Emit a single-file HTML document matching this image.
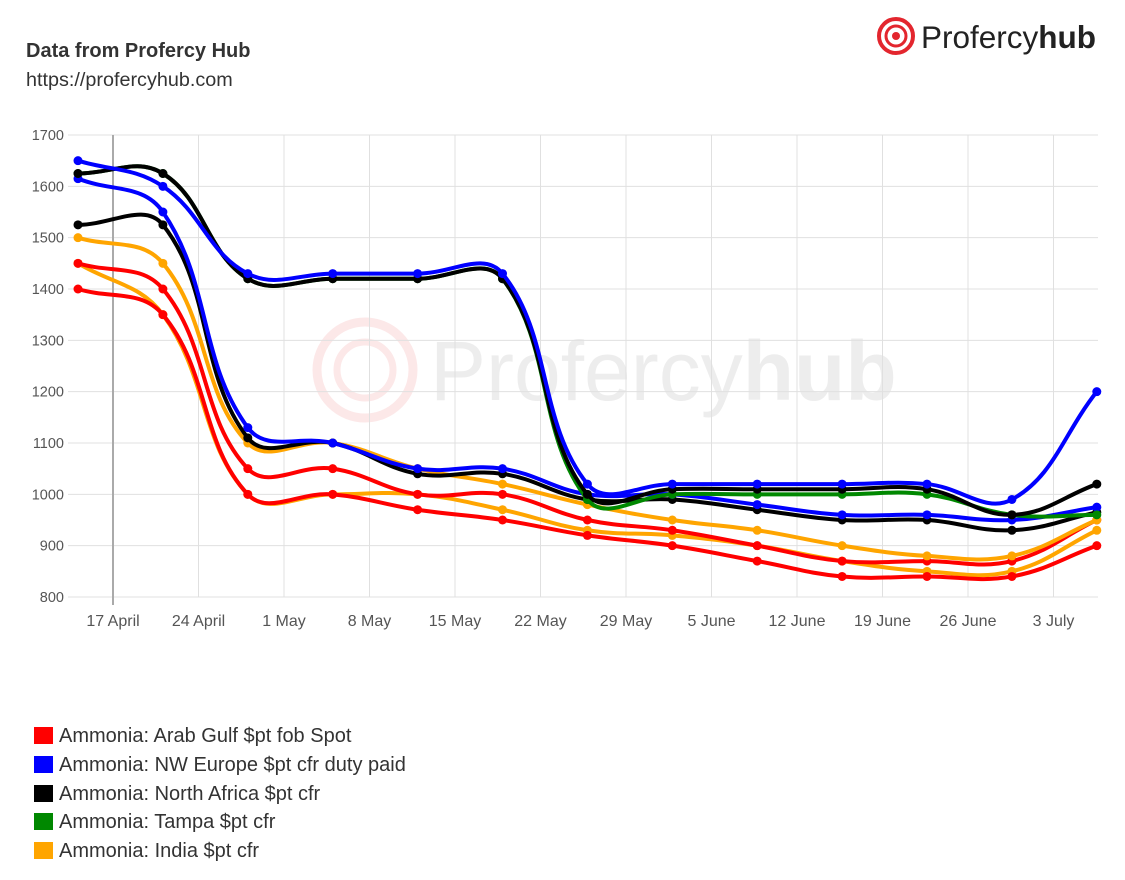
<!DOCTYPE html><html><head><style>
body{margin:0;width:1125px;height:880px;background:#fff;font-family:"Liberation Sans",sans-serif;overflow:hidden;position:relative}
.t{position:absolute;left:26px;top:40px;font-weight:bold;font-size:20px;color:#333}
.u{position:absolute;left:26px;top:69px;font-size:19.8px;color:#333}
.lg{position:absolute;left:34px;font-size:20px;color:#333;line-height:20px}
.lg span{display:inline-block;width:19px;height:17px;vertical-align:-2px;margin-right:6px}
</style></head><body>
<div class="t">Data from Profercy Hub</div>
<div class="u">https://profercyhub.com</div>
<svg width="1125" height="880" style="position:absolute;left:0;top:0" id="s" font-family="Liberation Sans, sans-serif">
<g id="logo">
<circle cx="896" cy="36" r="17" fill="none" stroke="#e3262e" stroke-width="4"/>
<circle cx="896" cy="36" r="10" fill="none" stroke="#e3262e" stroke-width="3"/>
<circle cx="896" cy="36" r="4" fill="#e3262e"/>
<text x="921" y="48" font-size="31.5" fill="#222">Profercy<tspan font-weight="bold">hub</tspan></text>
</g>
<g opacity="0.1">
<circle cx="365" cy="370" r="48" fill="none" stroke="#e3262e" stroke-width="9"/>
<circle cx="365" cy="370" r="28" fill="none" stroke="#e3262e" stroke-width="7"/>
<text x="430" y="400" font-size="84" fill="#555">Profercy<tspan font-weight="bold">hub</tspan></text>
</g>
<g id="g"></g><g id="d"></g>
</svg>
<div class="lg" style="top:726px"><span style="background:#f00"></span>Ammonia: Arab Gulf $pt fob Spot</div>
<div class="lg" style="top:755px"><span style="background:#00f"></span>Ammonia: NW Europe $pt cfr duty paid</div>
<div class="lg" style="top:784px"><span style="background:#000"></span>Ammonia: North Africa $pt cfr</div>
<div class="lg" style="top:812px"><span style="background:#080"></span>Ammonia: Tampa $pt cfr</div>
<div class="lg" style="top:841px"><span style="background:#ffa500"></span>Ammonia: India $pt cfr</div>
<script>
var g=document.getElementById('g'),d=document.getElementById('d'),h='';
function Y(v){return 135+(1700-v)*0.51333;}
for(var v=800;v<=1700;v+=100){h+='<line x1="68" x2="1098" y1="'+Y(v)+'" y2="'+Y(v)+'" stroke="#e0e0e0"/><text x="64" y="'+(Y(v)+5)+'" font-size="14.5" fill="#555" text-anchor="end">'+v+'</text>';}
var labs=["17 April","24 April","1 May","8 May","15 May","22 May","29 May","5 June","12 June","19 June","26 June","3 July"];
for(var i=0;i<12;i++){var x=113+i*85.5;h+='<line x1="'+x+'" x2="'+x+'" y1="135" y2="'+(i==0?605:597)+'" stroke="'+(i==0?'#aaa':'#e0e0e0')+'" stroke-width="'+(i==0?2:1)+'"/><text x="'+x+'" y="626" font-size="16" fill="#555" text-anchor="middle">'+labs[i]+'</text>';}
g.innerHTML=h;
var S=[
["#ffa500",[1450,1350,1000,1000,1000,970,930,920,900,870,850,850,930]],
["#f00",[1400,1350,1000,1000,970,950,920,900,870,840,840,840,900]],
["#f00",[1450,1400,1050,1050,1000,1000,950,930,900,870,870,870,950]],
["#ffa500",[1500,1450,1100,1100,1050,1020,980,950,930,900,880,880,950]],
["#000",[1525,1525,1110,1100,1040,1040,990,990,970,950,950,930,965]],
["#00f",[1615,1550,1130,1100,1050,1050,1000,1000,980,960,960,950,975]],
["#080",[1625,1625,1420,1420,1420,1420,990,1000,1000,1000,1000,960,960]],
["#000",[1625,1625,1420,1420,1420,1420,1000,1010,1010,1010,1010,960,1020]],
["#00f",[1650,1600,1430,1430,1430,1430,1020,1020,1020,1020,1020,990,1200]]];
var o='',T=0.4;
function dist(a,b){return Math.sqrt((a[0]-b[0])*(a[0]-b[0])+(a[1]-b[1])*(a[1]-b[1]));}
S.forEach(function(s){var p=s[1].map(function(v,i){return [78+i*84.9,Y(v)];});var n=p.length,cpp=[],cpn=[];
for(var i=0;i<n;i++){var pr=p[Math.max(0,i-1)],c=p[i],nx=p[Math.min(n-1,i+1)];
var d01=dist(pr,c),d12=dist(c,nx),sum=d01+d12||1;var fa=T*d01/sum,fb=T*d12/sum;
cpp[i]=[c[0]-fa*(nx[0]-pr[0]),c[1]-fa*(nx[1]-pr[1])];cpn[i]=[c[0]+fb*(nx[0]-pr[0]),c[1]+fb*(nx[1]-pr[1])];}
var str='M'+p[0][0]+','+p[0][1];
for(var i=0;i<n-1;i++){str+=' C'+cpn[i][0]+','+cpn[i][1]+' '+cpp[i+1][0]+','+cpp[i+1][1]+' '+p[i+1][0]+','+p[i+1][1];}
o+='<path d="'+str+'" fill="none" stroke="'+s[0]+'" stroke-width="4"/>';
p.forEach(function(q){o+='<circle cx="'+q[0]+'" cy="'+q[1]+'" r="4.5" fill="'+s[0]+'"/>';});});
d.innerHTML=o;
</script>
</body></html>
